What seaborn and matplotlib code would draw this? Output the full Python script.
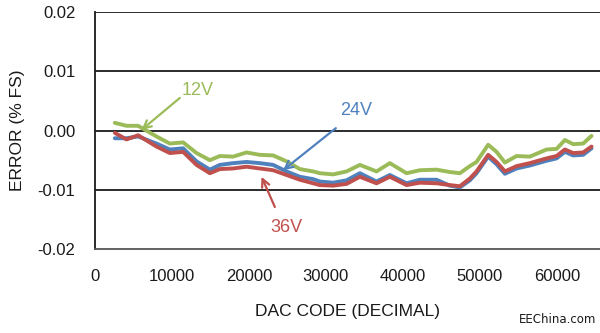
import matplotlib
matplotlib.use("Agg")
import matplotlib.pyplot as plt
import seaborn as sns
import pandas as pd

codes = [2600, 4120, 5620, 8010, 9740, 11470, 13210, 14940, 16230, 17960,
         19700, 21430, 23160, 24900, 26620, 28350, 29220, 30950, 32690, 34420,
         36580, 38310, 40480, 42210, 44380, 46100, 47400, 48700, 49570, 51080,
         52170, 53250, 54770, 56490, 58660, 59960, 61040, 62120, 63410, 64500]

err_12v = [0.0013, 0.0008, 0.0008, -0.0010, -0.0022, -0.0020, -0.0038, -0.0050, -0.0043, -0.0044,
           -0.0037, -0.0041, -0.0042, -0.0052, -0.0065, -0.0069, -0.0072, -0.0074, -0.0069, -0.0058,
           -0.0069, -0.0055, -0.0072, -0.0067, -0.0066, -0.0070, -0.0072, -0.0060, -0.0053, -0.0024,
           -0.0036, -0.0054, -0.0043, -0.0044, -0.0032, -0.0031, -0.0016, -0.0023, -0.0022, -0.0009]

err_24v = [-0.0013, -0.0013, -0.0010, -0.0022, -0.0032, -0.0030, -0.0052, -0.0066, -0.0058, -0.0055,
           -0.0053, -0.0055, -0.0058, -0.0069, -0.0078, -0.0082, -0.0086, -0.0088, -0.0084, -0.0072,
           -0.0086, -0.0075, -0.0089, -0.0083, -0.0083, -0.0093, -0.0096, -0.0084, -0.0072, -0.0044,
           -0.0057, -0.0073, -0.0064, -0.0059, -0.0051, -0.0047, -0.0036, -0.0042, -0.0041, -0.0030]

err_36v = [-0.0004, -0.0015, -0.0008, -0.0027, -0.0038, -0.0036, -0.0058, -0.0072, -0.0065, -0.0064,
           -0.0061, -0.0064, -0.0067, -0.0075, -0.0083, -0.0089, -0.0092, -0.0093, -0.0090, -0.0078,
           -0.0089, -0.0078, -0.0092, -0.0088, -0.0089, -0.0092, -0.0094, -0.0081, -0.0069, -0.0041,
           -0.0053, -0.0069, -0.0060, -0.0055, -0.0047, -0.0043, -0.0032, -0.0038, -0.0037, -0.0027]

series = ["12V", "24V", "36V"]
colors = {"12V": "#9BBB59", "24V": "#4F81BD", "36V": "#C0504D"}
yticks = [-0.02, -0.01, 0.00, 0.01, 0.02]
xticks = [0, 10000, 20000, 30000, 40000, 50000, 60000]

df = pd.concat([
    pd.DataFrame({"code": codes, "err": err_12v, "supply": "12V"}),
    pd.DataFrame({"code": codes, "err": err_24v, "supply": "24V"}),
    pd.DataFrame({"code": codes, "err": err_36v, "supply": "36V"}),
])

sns.set_theme(style="white")
plt.rcParams["font.family"] = ["Liberation Sans", "DejaVu Sans"]

fig = plt.figure(figsize=(6, 3.33), dpi=100)
ax = fig.add_axes([0.158, 0.252, 0.842, 0.712])

for s in series:
    sns.lineplot(data=df[df["supply"] == s], x="code", y="err", color=colors[s],
                 linewidth=2.8, ax=ax, legend=False)

ax.set_xlim(0, 65600)
ax.set_ylim(-0.02, 0.02)
ax.set_xticks(xticks)
ax.set_xticklabels([str(t) for t in xticks])
ax.set_yticks(yticks)
ax.set_yticklabels([f"{t:.2f}" for t in yticks])
for t in yticks[1:]:
    ax.axhline(t, color="#1a1a1a", linewidth=1.3, zorder=0)

for side in ["top", "right"]:
    ax.spines[side].set_visible(False)
ax.spines["left"].set_color("#1a1a1a")
ax.spines["left"].set_linewidth(1.3)
ax.spines["bottom"].set_color("#555555")
ax.spines["bottom"].set_linewidth(1.3)

ax.tick_params(axis="both", direction="inout", length=8, width=1.2, colors="#1a1a1a",
               labelsize=12, labelcolor="#1a1a1a")
ax.tick_params(axis="x", pad=10)
ax.tick_params(axis="y", pad=10)

ax.set_xlabel("DAC CODE (DECIMAL)", fontsize=12.5, color="#1a1a1a", labelpad=15)
ax.set_ylabel("ERROR (% FS)", fontsize=12.5, color="#1a1a1a", labelpad=9)

ann = [
    ("12V", (6060, 0.0001), (11040, 0.0055), (13380, 0.0068)),
    ("24V", (24450, -0.0067), (31300, 0.0004), (33900, 0.0033)),
    ("36V", (21650, -0.0078), (23380, -0.0129), (24930, -0.0163)),
]
for label, tip, tail, txt in ann:
    ax.annotate("", xy=tip, xytext=tail,
                arrowprops=dict(arrowstyle="->", color=colors[label], lw=1.6,
                                mutation_scale=14, shrinkA=0, shrinkB=0))
    ax.text(txt[0], txt[1], label, color=colors[label], fontsize=13,
            ha="center", va="center")

fig.text(0.929, 0.042, "EEChina.com", fontsize=8.5, color="#1a1a1a",
         ha="center", va="center", family=["DejaVu Sans"])

fig.savefig("out.png", dpi=100)
